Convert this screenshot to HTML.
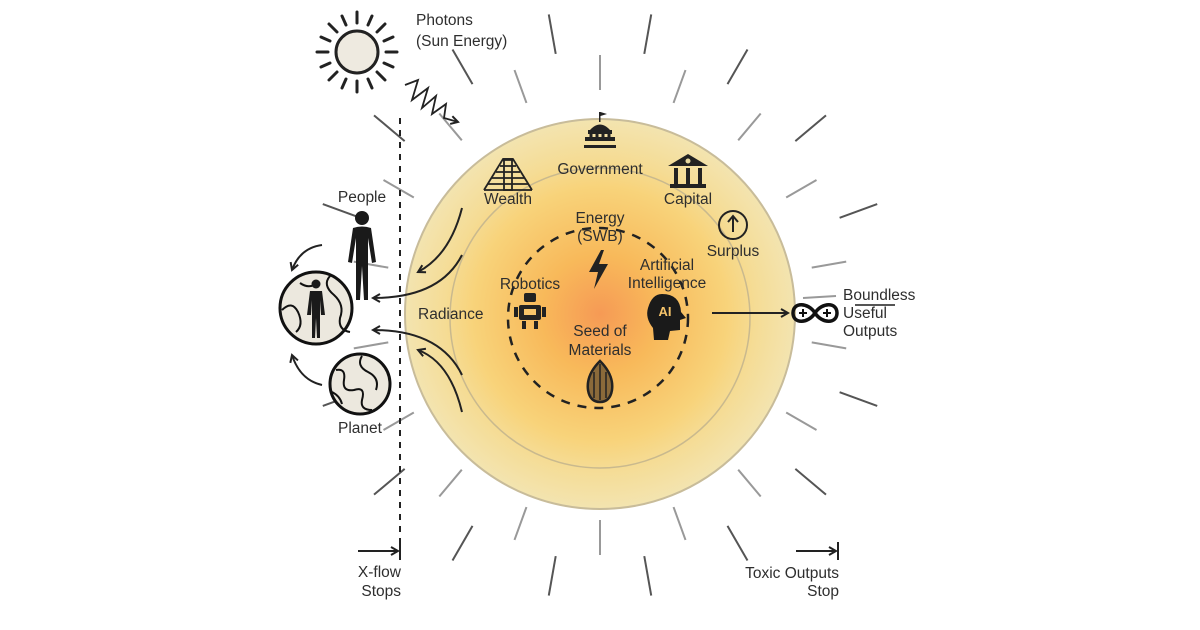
<!DOCTYPE html>
<html><head><meta charset="utf-8"><style>
html,body{margin:0;padding:0;background:#fff}
svg{display:block}
text{font-family:"Liberation Sans",sans-serif;font-size:15.5px;fill:#2e2e2e}
</style></head><body>
<svg width="1200" height="630" viewBox="0 0 1200 630" xmlns="http://www.w3.org/2000/svg">
<defs>
<radialGradient id="g" cx="0.5" cy="0.5" r="0.5">
<stop offset="0" stop-color="#f69a55"/>
<stop offset="0.3" stop-color="#f8b95a"/>
<stop offset="0.65" stop-color="#f8d37a"/>
<stop offset="0.8" stop-color="#f5dc95"/>
<stop offset="1" stop-color="#f3e4b0"/>
</radialGradient>
<marker id="ah" markerWidth="10" markerHeight="10" refX="8" refY="5" orient="auto" markerUnits="userSpaceOnUse">
<path d="M1,1 L8,5 L1,9" fill="none" stroke="#222" stroke-width="2"/>
</marker>
</defs>
<g transform="translate(600,305)" stroke-width="2">
<g stroke="#555">
<line x1="255" y1="0" x2="295" y2="0" transform="rotate(0)"/>
<line x1="255" y1="0" x2="295" y2="0" transform="rotate(20)"/>
<line x1="255" y1="0" x2="295" y2="0" transform="rotate(40)"/>
<line x1="255" y1="0" x2="295" y2="0" transform="rotate(60)"/>
<line x1="255" y1="0" x2="295" y2="0" transform="rotate(80)"/>
<line x1="255" y1="0" x2="295" y2="0" transform="rotate(100)"/>
<line x1="255" y1="0" x2="295" y2="0" transform="rotate(120)"/>
<line x1="255" y1="0" x2="295" y2="0" transform="rotate(140)"/>
<line x1="255" y1="0" x2="295" y2="0" transform="rotate(160)"/>
<line x1="255" y1="0" x2="295" y2="0" transform="rotate(180)"/>
<line x1="255" y1="0" x2="295" y2="0" transform="rotate(200)"/>
<line x1="255" y1="0" x2="295" y2="0" transform="rotate(220)"/>
<line x1="255" y1="0" x2="295" y2="0" transform="rotate(240)"/>
<line x1="255" y1="0" x2="295" y2="0" transform="rotate(260)"/>
<line x1="255" y1="0" x2="295" y2="0" transform="rotate(280)"/>
<line x1="255" y1="0" x2="295" y2="0" transform="rotate(300)"/>
<line x1="255" y1="0" x2="295" y2="0" transform="rotate(320)"/>
<line x1="255" y1="0" x2="295" y2="0" transform="rotate(340)"/>
</g>
<g stroke="#999">
<line x1="215" y1="0" x2="250" y2="0" transform="rotate(10)"/>
<line x1="215" y1="0" x2="250" y2="0" transform="rotate(30)"/>
<line x1="215" y1="0" x2="250" y2="0" transform="rotate(50)"/>
<line x1="215" y1="0" x2="250" y2="0" transform="rotate(70)"/>
<line x1="215" y1="0" x2="250" y2="0" transform="rotate(90)"/>
<line x1="215" y1="0" x2="250" y2="0" transform="rotate(110)"/>
<line x1="215" y1="0" x2="250" y2="0" transform="rotate(130)"/>
<line x1="215" y1="0" x2="250" y2="0" transform="rotate(150)"/>
<line x1="215" y1="0" x2="250" y2="0" transform="rotate(170)"/>
<line x1="215" y1="0" x2="250" y2="0" transform="rotate(190)"/>
<line x1="215" y1="0" x2="250" y2="0" transform="rotate(210)"/>
<line x1="215" y1="0" x2="250" y2="0" transform="rotate(230)"/>
<line x1="215" y1="0" x2="250" y2="0" transform="rotate(250)"/>
<line x1="215" y1="0" x2="250" y2="0" transform="rotate(270)"/>
<line x1="215" y1="0" x2="250" y2="0" transform="rotate(290)"/>
<line x1="215" y1="0" x2="250" y2="0" transform="rotate(310)"/>
<line x1="215" y1="0" x2="250" y2="0" transform="rotate(330)"/>
<line x1="215" y1="0" x2="250" y2="0" transform="rotate(350)"/>
</g>
</g>
<circle cx="600" cy="314" r="195" fill="url(#g)" stroke="#c8bc9a" stroke-width="2"/>
<circle cx="600" cy="318" r="150" fill="none" stroke="#c9b98e" stroke-width="1.5"/>
<circle cx="598" cy="318" r="90" fill="none" stroke="#222" stroke-width="2.5" stroke-dasharray="9 8"/>

<g transform="translate(357,52)" stroke="#222" stroke-width="3" stroke-linecap="round">
<circle r="21" fill="#eeeae0"/>
<line x1="0" y1="-29" x2="0" y2="-40"/><line x1="0" y1="29" x2="0" y2="40"/>
<line x1="-29" y1="0" x2="-40" y2="0"/><line x1="29" y1="0" x2="40" y2="0"/>
<line x1="20" y1="20" x2="28" y2="28"/><line x1="-20" y1="20" x2="-28" y2="28"/>
<line x1="20" y1="-20" x2="28" y2="-28"/><line x1="-20" y1="-20" x2="-28" y2="-28"/>
<line x1="11" y1="-27" x2="15" y2="-36"/><line x1="-11" y1="-27" x2="-15" y2="-36"/>
<line x1="11" y1="27" x2="15" y2="36"/><line x1="-11" y1="27" x2="-15" y2="36"/>
<line x1="27" y1="11" x2="36" y2="15"/><line x1="-27" y1="11" x2="-36" y2="15"/>
<line x1="27" y1="-11" x2="36" y2="-15"/><line x1="-27" y1="-11" x2="-36" y2="-15"/>
</g>
<text x="416" y="25">Photons</text>
<text x="416" y="46">(Sun Energy)</text>
<polyline points="405,85 418,80 412,100 428,88 422,108 436,96 432,114 446,104 444,118 458,122" fill="none" stroke="#222" stroke-width="1.8" marker-end="url(#ah)"/>

<line x1="400" y1="118" x2="400" y2="548" stroke="#222" stroke-width="2" stroke-dasharray="6 6"/>

<text x="362" y="202" text-anchor="middle">People</text>
<g fill="#1a1a1a">
<circle cx="362" cy="218" r="7"/>
<path d="M353,228 Q362,225 371,228 L376,262 L372,263 L368,238 L368,300 L364,300 L362,266 L360,300 L356,300 L356,238 L352,263 L348,262 Z"/>
</g>
<circle cx="316" cy="308" r="36" fill="#ece8de" stroke="#111" stroke-width="3"/>
<path d="M282,310 Q292,300 298,312 Q304,325 296,332 M330,276 Q322,285 334,295 Q345,305 340,318 Q338,330 350,332 M300,283 Q310,290 318,282" fill="none" stroke="#111" stroke-width="2"/>
<g fill="#1a1a1a"><circle cx="316" cy="284" r="4.5"/><path d="M310,291 L322,291 L325,315 L321,315 L320,300 L320,338 L317,338 L316,318 L315,338 L312,338 L312,300 L311,315 L307,315 Z"/></g>
<circle cx="360" cy="384" r="30" fill="#ece8de" stroke="#111" stroke-width="3"/>
<path d="M336,370 Q346,368 344,380 Q342,392 354,390 Q366,386 362,400 Q360,410 372,410 M362,356 Q356,366 368,372 Q380,378 376,390 M332,392 Q340,396 342,404" fill="none" stroke="#111" stroke-width="2"/>
<text x="360" y="433" text-anchor="middle">Planet</text>

<g fill="none" stroke="#222" stroke-width="2" marker-end="url(#ah)">
<path d="M462,208 Q450,255 418,272"/>
<path d="M462,255 Q440,298 373,298"/>
<path d="M462,375 Q440,330 373,330"/>
<path d="M462,412 Q450,362 418,350"/>
<path d="M322,245 Q300,248 292,270"/>
<path d="M322,385 Q300,380 292,355"/>
</g>
<text x="418" y="319">Radiance</text>

<g fill="none" stroke="#222" stroke-width="1.8">
<path d="M484,190 L532,190 M488,184 L528,184 M492,178 L524,178 M496,172 L520,172 M500,166 L516,166 M503,160 L513,160"/>
<path d="M484,190 L503,159 L513,159 L532,190"/>
<rect x="504" y="159" width="8" height="31"/>
</g>
<text x="508" y="204" text-anchor="middle">Wealth</text>
<g fill="#222">
<path d="M585,141 L615,141 L615,137 L585,137 Z M584,145 L616,145 L616,148 L584,148 Z"/>
<rect x="588" y="130" width="24" height="4"/>
<path d="M590,130 Q600,119 610,130 Z"/>
<rect x="599" y="112" width="1.5" height="10"/><path d="M600.5,112 L607,114 L600.5,116Z"/>
</g>
<g stroke="#222" stroke-width="3"><line x1="591" y1="134" x2="591" y2="141"/><line x1="597" y1="134" x2="597" y2="141"/><line x1="603" y1="134" x2="603" y2="141"/><line x1="609" y1="134" x2="609" y2="141"/></g>
<text x="600" y="174" text-anchor="middle">Government</text>
<g fill="#222">
<path d="M668,166 L688,154 L708,166 Z"/>
<rect x="670" y="184" width="36" height="4"/>
<rect x="674" y="168" width="4" height="16"/><rect x="686" y="168" width="4" height="16"/><rect x="698" y="168" width="4" height="16"/>
</g>
<circle cx="688" cy="161" r="2.5" fill="#e8d9a0"/>
<text x="688" y="204" text-anchor="middle">Capital</text>
<circle cx="733" cy="225" r="14" fill="none" stroke="#222" stroke-width="2"/>
<path d="M733,232 L733,217 M728,222 L733,216 L738,222" fill="none" stroke="#222" stroke-width="2"/>
<text x="733" y="256" text-anchor="middle">Surplus</text>

<text x="600" y="223" text-anchor="middle">Energy</text>
<text x="600" y="241" text-anchor="middle">(SWB)</text>
<path d="M601,250 L589,272 L598,272 L594,289 L608,264 L599,264 L604,250 Z" fill="#222"/>
<text x="530" y="289" text-anchor="middle">Robotics</text>
<g fill="#222">
<rect x="524" y="293" width="12" height="9" rx="2"/>
<rect x="519" y="305" width="22" height="15" rx="2"/>
<rect x="514" y="307" width="4" height="10"/><rect x="542" y="307" width="4" height="10"/>
<rect x="522" y="321" width="4" height="8"/><rect x="534" y="321" width="4" height="8"/>
</g>
<rect x="524" y="309" width="12" height="6" fill="#f6c46a"/>
<text x="667" y="270" text-anchor="middle">Artificial</text>
<text x="667" y="288" text-anchor="middle">Intelligence</text>
<path d="M662,294 Q680,294 681,312 L686,318 L680,320 L680,330 L670,331 L668,340 L654,340 L653,328 Q645,318 648,308 Q652,294 662,294 Z" fill="#1a1a1a"/>
<text x="665" y="316" text-anchor="middle" style="font-size:13px;font-weight:bold;fill:#f6c46a">AI</text>
<text x="600" y="336" text-anchor="middle">Seed of</text>
<text x="600" y="355" text-anchor="middle">Materials</text>
<path d="M600,361 Q614,375 612,390 Q610,402 600,402 Q590,402 588,390 Q586,375 600,361 Z" fill="#8a6a3a" stroke="#222" stroke-width="2.5"/>
<path d="M600,364 L600,400 M594,372 L594,398 M606,372 L606,398" stroke="#222" stroke-width="1.5"/>

<line x1="712" y1="313" x2="788" y2="313" stroke="#222" stroke-width="2" marker-end="url(#ah)"/>
<path d="M815,313 C808,302 793,302 793,313 C793,324 808,324 815,313 C822,302 837,302 837,313 C837,324 822,324 815,313 Z" fill="none" stroke="#111" stroke-width="3.5"/>
<path d="M799,313 h8 M803,309 v8 M823,313 h8 M827,309 v8" stroke="#111" stroke-width="2"/>
<line x1="803" y1="298" x2="836" y2="296" stroke="#999" stroke-width="2"/>
<text x="843" y="300">Boundless</text>
<text x="843" y="318">Useful</text>
<text x="843" y="336">Outputs</text>

<line x1="358" y1="551" x2="398" y2="551" stroke="#222" stroke-width="2" marker-end="url(#ah)"/>
<line x1="400" y1="542" x2="400" y2="560" stroke="#222" stroke-width="2"/>
<text x="401" y="577" text-anchor="end">X-flow</text>
<text x="401" y="596" text-anchor="end">Stops</text>
<line x1="796" y1="551" x2="836" y2="551" stroke="#222" stroke-width="2" marker-end="url(#ah)"/>
<line x1="838" y1="542" x2="838" y2="560" stroke="#222" stroke-width="2"/>
<text x="839" y="578" text-anchor="end">Toxic Outputs</text>
<text x="839" y="596" text-anchor="end">Stop</text>
</svg>
</body></html>
